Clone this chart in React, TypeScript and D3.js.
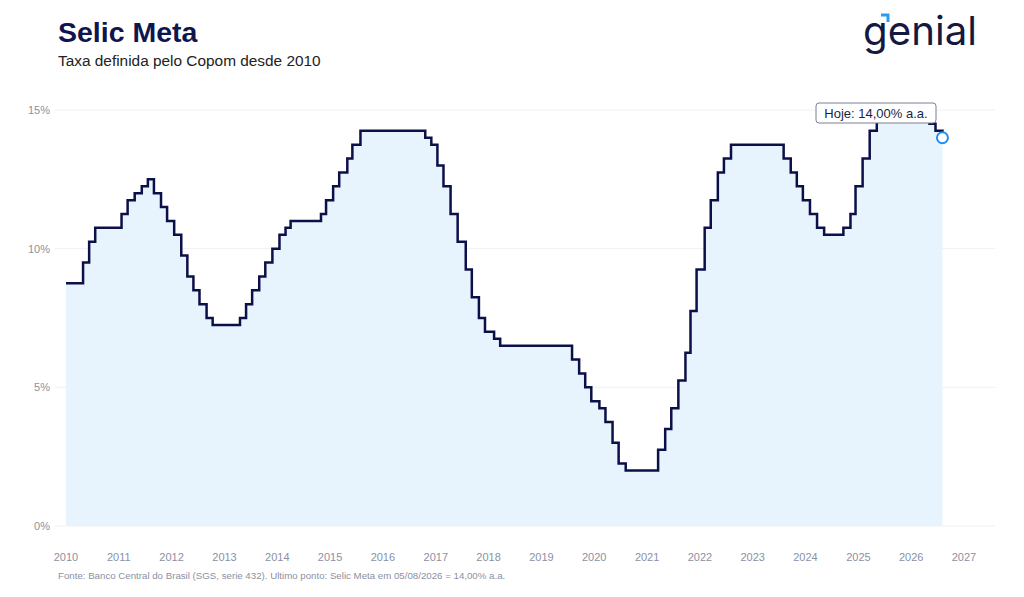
import * as d3 from 'd3'

const selicDates = [
  '2010-01-01', '2010-04-29', '2010-06-10', '2010-07-22', '2011-01-20', '2011-03-03',
  '2011-04-21', '2011-06-09', '2011-07-21', '2011-09-01', '2011-10-20', '2011-12-01',
  '2012-01-19', '2012-03-08', '2012-04-19', '2012-05-31', '2012-07-12', '2012-08-30',
  '2012-10-11', '2013-04-18', '2013-05-30', '2013-07-11', '2013-08-29', '2013-10-10',
  '2013-11-28', '2014-01-16', '2014-02-27', '2014-04-03', '2014-10-30', '2014-12-04',
  '2015-01-22', '2015-03-05', '2015-04-30', '2015-06-04', '2015-07-30', '2016-10-20',
  '2016-12-01', '2017-01-12', '2017-02-23', '2017-04-13', '2017-06-01', '2017-07-27',
  '2017-09-07', '2017-10-26', '2017-12-07', '2018-02-08', '2018-03-22', '2019-08-01',
  '2019-09-19', '2019-10-31', '2019-12-12', '2020-02-06', '2020-03-19', '2020-05-07',
  '2020-06-18', '2020-08-06', '2021-03-18', '2021-05-06', '2021-06-17', '2021-08-05',
  '2021-09-23', '2021-10-28', '2021-12-09', '2022-02-03', '2022-03-17', '2022-05-05',
  '2022-06-16', '2022-08-04', '2023-08-03', '2023-09-21', '2023-11-02', '2023-12-14',
  '2024-02-01', '2024-03-21', '2024-05-09', '2024-09-19', '2024-11-07', '2024-12-12',
  '2025-01-30', '2025-03-20', '2025-05-08', '2025-06-19', '2026-03-19', '2026-05-07',
  '2026-06-18', '2026-08-05',
]

const selicRates = [
  8.75, 9.5, 10.25, 10.75, 11.25, 11.75,
  12.0, 12.25, 12.5, 12.0, 11.5, 11.0,
  10.5, 9.75, 9.0, 8.5, 8.0, 7.5,
  7.25, 7.5, 8.0, 8.5, 9.0, 9.5,
  10.0, 10.5, 10.75, 11.0, 11.25, 11.75,
  12.25, 12.75, 13.25, 13.75, 14.25, 14.0,
  13.75, 13.0, 12.25, 11.25, 10.25, 9.25,
  8.25, 7.5, 7.0, 6.75, 6.5, 6.0,
  5.5, 5.0, 4.5, 4.25, 3.75, 3.0,
  2.25, 2.0, 2.75, 3.5, 4.25, 5.25,
  6.25, 7.75, 9.25, 10.75, 11.75, 12.75,
  13.25, 13.75, 13.25, 12.75, 12.25, 11.75,
  11.25, 10.75, 10.5, 10.75, 11.25, 12.25,
  13.25, 14.25, 14.75, 15.0, 14.75, 14.5,
  14.25, 14.0,
]

const yTicks = [0, 5, 10, 15]
const xYears = d3.range(2010, 2028)

const W = 1024
const H = 597
const navy = '#0c1048'
const gray = '#8b90a3'

type Pt = { date: Date; rate: number }

export default function App() {
  const parse = d3.utcParse('%Y-%m-%d')
  const data: Pt[] = selicDates.map((d, i) => ({ date: parse(d) as Date, rate: selicRates[i] }))

  const x = d3
    .scaleUtc()
    .domain([new Date(Date.UTC(2010, 0, 1)), new Date(Date.UTC(2027, 0, 1))])
    .range([66, 964])
  const y = d3.scaleLinear().domain([0, 15]).range([526, 110])

  const line = d3
    .line<Pt>()
    .x((d) => x(d.date))
    .y((d) => y(d.rate))
    .curve(d3.curveStepAfter)
  const area = d3
    .area<Pt>()
    .x((d) => x(d.date))
    .y0(y(0))
    .y1((d) => y(d.rate))
    .curve(d3.curveStepAfter)

  const last = data[data.length - 1]
  const lx = x(last.date)
  const ly = y(last.rate)

  return (
    <svg
      width={W}
      height={H}
      style={{ position: 'absolute', left: 0, top: 0, fontFamily: 'Arial, "Liberation Sans", sans-serif' }}
    >
      <rect width={W} height={H} fill="#fff" />

      {/* header */}
      <text x={58} y={42} fontSize={28.5} fontWeight="bold" fill="#0e1650">
        Selic Meta
      </text>
      <text x={58} y={66} fontSize={15.4} fill="#222">
        Taxa definida pelo Copom desde 2010
      </text>
      <g>
        <text
          x={863}
          y={45}
          fontSize={40}
          fontWeight={400}
          fill="#15183f"
          fontFamily="Inter, 'Noto Sans', sans-serif"
          textLength={114}
          lengthAdjust="spacingAndGlyphs"
        >
          genial
        </text>
        <path d="M881,15 L888,15 L888,22" fill="none" stroke="#2b9cf0" strokeWidth={3} />
      </g>

      {/* grid + y labels */}
      {yTicks.map((t) => (
        <g key={t}>
          <line x1={55} x2={995} y1={y(t)} y2={y(t)} stroke="#eef0f4" strokeWidth={1} />
          <text x={50} y={y(t)} dy="0.35em" textAnchor="end" fontSize={11} fill={gray}>
            {t}%
          </text>
        </g>
      ))}

      <path d={area(data) || undefined} fill="#e7f3fd" />
      <path d={line(data) || undefined} fill="none" stroke={navy} strokeWidth={2.5} strokeLinejoin="miter" />

      {/* x labels */}
      {xYears.map((yr) => (
        <text
          key={yr}
          x={x(new Date(Date.UTC(yr, 0, 1)))}
          y={561}
          textAnchor="middle"
          fontSize={11}
          fill={gray}
        >
          {yr}
        </text>
      ))}

      {/* today marker */}
      <circle cx={lx} cy={ly} r={5.5} fill="#fff" stroke="#1e8ef0" strokeWidth={2} />
      <g>
        <rect x={816} y={103} width={120} height={20} rx={3} fill="#fff" stroke="#7a7e96" strokeWidth={1} />
        <text x={876} y={118} textAnchor="middle" fontSize={13} fill="#1a1f4a">
          Hoje: 14,00% a.a.
        </text>
      </g>

      <text x={58} y={579} fontSize={9.7} fill={gray}>
        Fonte: Banco Central do Brasil (SGS, serie 432). Ultimo ponto: Selic Meta em 05/08/2026 = 14,00% a.a.
      </text>
    </svg>
  )
}
